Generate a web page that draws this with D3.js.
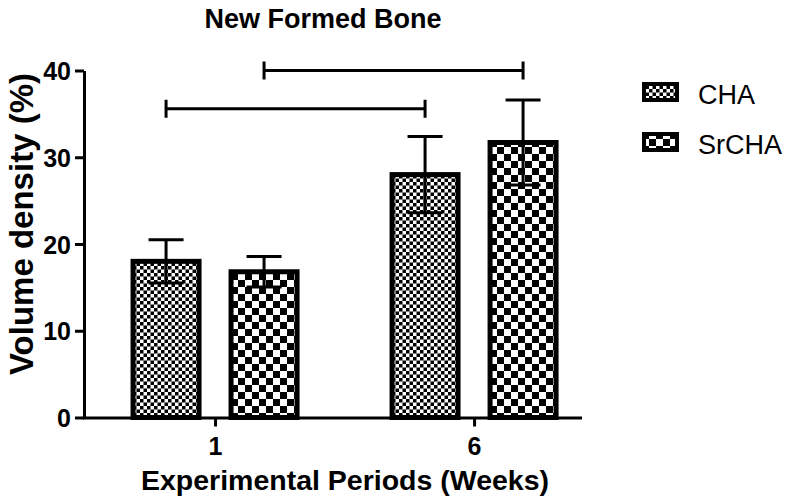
<!DOCTYPE html>
<html lang="en">
<head>
<meta charset="UTF-8">
<title>New Formed Bone</title>
<script src="https://d3js.org/d3.v7.min.js"></script>
<style>
    body { margin: 0; background: #fff; }
    svg { display: block; font-family: "Liberation Sans", Arial, sans-serif; }
    .axis path, .axis line { stroke: #000; stroke-width: 3; }
    .axis text { font-size: 25px; font-weight: bold; fill: #000; }
    .bar { stroke: #000; stroke-width: 5; }
    .err, .bracket { stroke: #000; stroke-width: 3; fill: none; }
</style>
</head>
<body>
<svg width="790" height="499"></svg>
<script>
    const weeks = ["1", "6"];
    const series = ["CHA", "SrCHA"];
    const means = {
        CHA:   [18.0, 28.0],
        SrCHA: [16.8, 31.7]
    };
    const errors = {
        CHA:   [2.5, 4.4],
        SrCHA: [1.75, 4.9]
    };
    const yTicks = [0, 10, 20, 30, 40];
    // significance brackets: same series, week 1 vs week 6
    const brackets = [
        { series: "CHA", level: 35.6 },
        { series: "SrCHA", level: 40 }
    ];

    const svg = d3.select("svg");

    const x = d3.scalePoint().domain(weeks).range([84, 580]).padding(0.4575).align(0.553);
    const xSub = d3.scaleBand().domain(series).range([-84.5, 84.5]).paddingInner(0.2755);
    const y = d3.scaleLinear().domain([0, 40]).range([417.5, 70.5]);

    // patterns
    const defs = svg.append("defs");
    function checker(id, cell) {
        const p = defs.append("pattern").attr("id", id)
            .attr("patternUnits", "userSpaceOnUse")
            .attr("width", cell * 2).attr("height", cell * 2);
        p.append("rect").attr("width", cell * 2).attr("height", cell * 2).attr("fill", "#fff");
        p.append("rect").attr("width", cell).attr("height", cell).attr("fill", "#000");
        p.append("rect").attr("x", cell).attr("y", cell).attr("width", cell).attr("height", cell).attr("fill", "#000");
    }
    checker("pat-CHA", 3.5);
    checker("pat-SrCHA", 7);

    const data = [];
    weeks.forEach((w, i) => {
        series.forEach(s => data.push({ week: w, series: s, value: means[s][i], err: errors[s][i] }));
    });

    const cx = d => x(d.week) + xSub(d.series) + xSub.bandwidth() / 2;

    // bars
    svg.selectAll(".bar").data(data).enter().append("rect")
        .attr("class", "bar")
        .attr("x", d => x(d.week) + xSub(d.series) + 2.5)
        .attr("width", xSub.bandwidth() - 5)
        .attr("y", d => y(d.value))
        .attr("height", d => y(0) - y(d.value))
        .attr("fill", d => `url(#pat-${d.series})`);

    // error bars
    const capW = 35;
    const eb = svg.selectAll(".errg").data(data).enter().append("g");
    eb.append("line").attr("class", "err")
        .attr("x1", cx).attr("x2", cx)
        .attr("y1", d => y(d.value - d.err)).attr("y2", d => y(d.value + d.err));
    eb.append("line").attr("class", "err")
        .attr("x1", d => cx(d) - capW / 2).attr("x2", d => cx(d) + capW / 2)
        .attr("y1", d => y(d.value + d.err)).attr("y2", d => y(d.value + d.err));
    eb.append("line").attr("class", "err")
        .attr("x1", d => cx(d) - capW / 2).attr("x2", d => cx(d) + capW / 2)
        .attr("y1", d => y(d.value - d.err)).attr("y2", d => y(d.value - d.err));

    // axes
    svg.append("g").attr("class", "axis")
        .attr("transform", `translate(84,0)`)
        .call(d3.axisLeft(y).tickValues(yTicks).tickSize(9).tickSizeOuter(0).tickPadding(4))
        .call(g => g.selectAll("text").attr("dy", "0.36em"));

    svg.append("g").attr("class", "axis")
        .attr("transform", `translate(0,${y(0)})`)
        .call(d3.axisBottom(x).tickSize(9).tickSizeOuter(0).tickPadding(11))
        .call(g => g.select(".domain").attr("stroke-linecap", "square"));

    // brackets
    brackets.forEach(b => {
        const x1 = x(weeks[0]) + xSub(b.series) + xSub.bandwidth() / 2;
        const x2 = x(weeks[1]) + xSub(b.series) + xSub.bandwidth() / 2;
        const yy = y(b.level);
        svg.append("path").attr("class", "bracket")
            .attr("d", `M${x1},${yy - 9}V${yy + 9}M${x1},${yy}H${x2}M${x2},${yy - 9}V${yy + 9}`);
    });

    // title and axis labels
    svg.append("text").attr("x", 323).attr("y", 28)
        .attr("text-anchor", "middle").attr("font-size", 27).attr("font-weight", "bold")
        .text("New Formed Bone");
    svg.append("text").attr("x", 345).attr("y", 490)
        .attr("text-anchor", "middle").attr("font-size", 28.5).attr("font-weight", "bold")
        .text("Experimental Periods (Weeks)");
    svg.append("text")
        .attr("transform", `translate(33,${(y(0) + y(40)) / 2 - 20}) rotate(-90)`)
        .attr("text-anchor", "middle").attr("font-size", 33).attr("font-weight", "bold")
        .text("Volume density (%)");

    // legend
    const legend = svg.append("g").attr("transform", "translate(642,82)");
    series.forEach((s, i) => {
        const g = legend.append("g").attr("transform", `translate(0,${i * 50})`);
        g.append("rect").attr("x", 2).attr("y", 2).attr("width", 33).attr("height", 16)
            .attr("fill", `url(#pat-${s})`).attr("stroke", "#000").attr("stroke-width", 4);
        g.append("text").attr("x", 56).attr("y", 22)
            .attr("font-size", 27).text(s);
    });
</script>
</body>
</html>
